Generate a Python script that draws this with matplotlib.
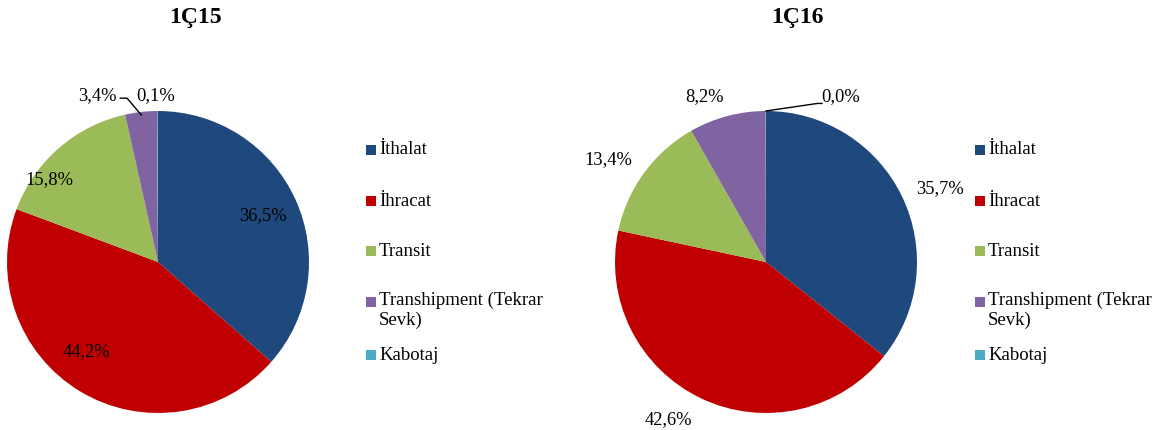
import numpy as np
import matplotlib
matplotlib.use("Agg")
import matplotlib.pyplot as plt
from matplotlib.patches import Rectangle

categories = ["İthalat", "İhracat", "Transit", "Transhipment (Tekrar\nSevk)", "Kabotaj"]
titles = ["1Ç15", "1Ç16"]
values_1q15 = [36.5, 44.2, 15.8, 3.4, 0.1]
values_1q16 = [35.7, 42.6, 13.4, 8.2, 0.04]
labels_1q15 = ["36,5%", "44,2%", "15,8%", "3,4%", "0,1%"]
labels_1q16 = ["35,7%", "42,6%", "13,4%", "8,2%", "0,0%"]
colors = ["#1F497D", "#C00000", "#9BBB59", "#8064A2", "#4BACC6"]

W, H = 1159, 430
fig = plt.figure(figsize=(W / 100, H / 100), dpi=100)
plt.rcParams['font.family'] = ['Liberation Serif', 'DejaVu Serif']
FS = 13.3
LFS = 13.5

def px_rect(x0, y0, w, h):
    return [x0 / W, 1 - (y0 + h) / H, w / W, h / H]

# label placement: (angle deg, radius) per wedge
place_1 = [(23.6, 0.76), (-128.7, 0.76), (142.8, 0.90), (110.0, 1.17), (90.7, 1.10)]
place_2 = [(23.0, 1.25), (-121.8, 1.23), (147.0, 1.245), (110.3, 1.165), (65.6, 1.20)]

specs = [
    (values_1q15, labels_1q15, place_1, 158, titles[0], 195, 366, 3),
    (values_1q16, labels_1q16, place_2, 766, titles[1], 797, 975, 4),
]

for vals, labs, place, cx, title, tx, lx, leader_idx in specs:
    R = 151
    ax = fig.add_axes(px_rect(cx - R, 262 - R, 2 * R, 2 * R))
    wedges, _ = ax.pie(vals, colors=colors, startangle=90, counterclock=False,
                       radius=1, wedgeprops=dict(linewidth=0))
    ax.set_xlim(-1, 1)
    ax.set_ylim(-1, 1)
    ax.set_aspect('equal')
    ax.axis('off')
    for i, (lab, (ang, r)) in enumerate(zip(labs, place)):
        a = np.deg2rad(ang)
        x, y = r * np.cos(a), r * np.sin(a)
        ax.text(x, y, lab, ha='center', va='center', fontsize=FS, color='black', clip_on=False)
    w = wedges[leader_idx]
    mid = np.deg2rad((w.theta1 + w.theta2) / 2)
    if leader_idx == 3:
        p0 = (0.98 * np.cos(mid), 0.98 * np.sin(mid))
        ax.plot([p0[0], -0.205, -0.25], [p0[1], 1.085, 1.085], color='black', lw=1, clip_on=False)
    else:
        p0 = (np.cos(mid), np.sin(mid))
        ax.plot([p0[0], 0.34, 0.37], [p0[1], 1.05, 1.05], color='black', lw=1, clip_on=False)

    fig.text(tx / W, 1 - 18 / H, title, ha='center', va='center', fontsize=17, fontweight='bold')

    # legend
    ys = [150, 201, 251, 302, 355]
    for cat, col, yy in zip(categories, colors, ys):
        fig.add_artist(Rectangle((lx / W, 1 - (yy + 5) / H), 10 / W, 10 / H,
                                 transform=fig.transFigure, color=col, lw=0))
        if '\n' in cat:
            fig.text((lx + 13) / W, 1 - (yy - 10) / H, cat, ha='left', va='top',
                     fontsize=LFS, linespacing=1.15)
        else:
            fig.text((lx + 13) / W, 1 - yy / H, cat, ha='left', va='center', fontsize=LFS)

fig.savefig("out.png", dpi=100)
